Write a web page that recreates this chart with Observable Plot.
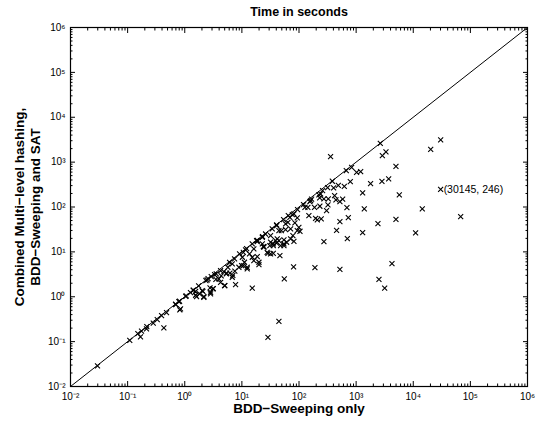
<!DOCTYPE html>
<html><head><meta charset="utf-8">
<script src="https://cdn.jsdelivr.net/npm/d3@7"></script>
<script src="https://cdn.jsdelivr.net/npm/@observablehq/plot@0.6"></script>
<style>body{margin:0;background:#fff}</style>
</head><body><div id="chart"></div>
<script>
// BDD-Sweeping only (x) vs Combined (y), seconds
const bddSweeping = [357,2650,30200,20200,2880,3330,4980,673,834,1020,1200,383,488,404,621,791,1790,2830,3710,30145,
1300,5700,14400,67600,1390,690,730,520,4980,2410,11000,1300,455,702,273,4240,80.4,190,520,55.3,
2510,3160,15.2,44.5,28.6,239,273,326,420,443,520,581,321,304,232,187,143,127,155,166,
230,149,195,209,245,81.5,69.3,64,84.7,93.3,99.5,93.3,104,71.3,58.2,49,40.6,78.2,71.3,81.5,
54.5,44.5,40.6,47.6,31.8,35.5,54.5,60.7,24.3,18.6,22.8,26,34,58.2,0.69,0.789,0.843,1.06,1.26,1.41,
1.55,1.82,2.16,2.02,1.61,2.83,3.11,2.47,2.91,3.56,3.95,4.24,5.04,7.76,4.84,5.69,6.79,5.40,6.18,6.79,
7.53,8.87,9.89,11.1,12.4,10.2,10.6,11.6,13.6,15.2,18.6,19.9,16.2,22.8,24.3,18.6,15.2,27.7,31.8,30.9,
35.5,38.9,31.8,41.6,44.5,0.0297,0.109,0.168,0.151,0.175,0.217,0.214,0.281,0.330,0.393,0.480,0.431,0.698,0.811,0.820,
1.04,1.41,1.55,2.16,2.08,2.83,3.16,2.77,2.35,2.56,4.98,3.51,5.34,6.95,4.35,65,76.4,160,223,259,
317,120,94.4,53.7,40.6,23,18.1,12.1,9.12,7.45,6.1,4.24,3.33,1.75,23.7,28.6,35.5,46.3,19.9,16.2,
12.4,10.6,54.5];
const combined = [1320,2620,3120,1930,1400,1690,805,647,766,593,614,375,304,266,289,368,332,373,423,246,
206,187,90.8,61.1,90.8,97,58,47.3,53.2,42.7,26.5,26.9,30.3,19.8,16.9,5.48,4.63,4.47,4.09,2.51,
2.45,1.55,1.55,0.284,0.125,195,151,151,179,144,132,149,111,83.2,104,98.4,98.4,98.4,132,149,
159,64.3,56.0,51.5,54.2,70,59,45.6,44.1,57,35.3,29.8,28.8,32.5,31.4,29.8,38.5,23.1,19.5,17.2,
18.5,17.9,15.6,13.8,16.4,13.8,13.8,16.4,13.1,18,21.1,25,32.5,42.1,0.68,0.78,0.537,1.05,1.24,1.40,
1.31,1.16,1.01,1.37,1.01,1.26,1.50,2.38,2.82,3.24,2.51,2.10,1.77,1.87,3.64,4.54,5.40,3.35,3.35,2.72,
3.71,4.54,4.95,5.87,4.54,7.59,9.79,11.1,9.02,7.59,7.85,5.87,11.7,15.1,12.7,16.9,15.0,9.79,9.02,13.8,
15.1,17.9,23.1,19.5,29.8,0.0289,0.107,0.128,0.150,0.171,0.215,0.193,0.257,0.310,0.381,0.445,0.203,0.670,0.794,0.511,
1.02,1.38,1.08,0.975,1.32,1.16,1.52,1.58,2.30,2.54,1.77,2.45,3.24,3.01,2.92,64,67.8,139,186,232,
270,113,87.5,52.4,40,21.9,17.9,11.8,9.0,7.0,5.8,3.8,3.1,1.74,13.1,9.3,9.3,8.28,5.2,6.4,
4.2,4.95,15.1];
const diagonal = [0.01, 1e6];
const decades = [1e-2,1e-1,1e0,1e1,1e2,1e3,1e4,1e5,1e6];
const minorMultipliers = [2,3,4,5,6,7,8,9];
const annotation = [{x: 30145, y: 246, label: "(30145, 246)"}];
const title = "Time in seconds";
const xLabel = "BDD\u2212Sweeping only";
const yLabel1 = "Combined Multi\u2212level hashing,";
const yLabel2 = "BDD\u2212Sweeping and SAT";

const points = bddSweeping.map((x, i) => ({x, y: combined[i]}));
const minorTicks = decades.slice(0, -1).flatMap(d => minorMultipliers.map(m => d * m));
const sup = {"-":"\u207B","0":"\u2070","1":"\u00B9","2":"\u00B2","3":"\u00B3","4":"\u2074","5":"\u2075","6":"\u2076","7":"\u2077","8":"\u2078","9":"\u2079"};
const fmt = d => "10" + String(Math.round(Math.log10(d))).split("").map(c => sup[c]).join("");
const font = "Liberation Sans, Arial, Helvetica, sans-serif";

const chart = Plot.plot({
  width: 540, height: 425,
  marginLeft: 70, marginRight: 13, marginTop: 27, marginBottom: 39,
  style: {fontFamily: font, fontSize: "10px", background: "#fff", color: "#000"},
  x: {type: "log", domain: [1e-2, 1e6]},
  y: {type: "log", domain: [1e-2, 1e6]},
  marks: [
    Plot.axisX(decades, {anchor: "bottom", tickSize: -5, tickFormat: fmt, tickPadding: 11, label: null, fontSize: 10}),
    Plot.axisX(minorTicks, {anchor: "bottom", tickSize: -2.5, tickFormat: () => "", label: null}),
    Plot.axisX(decades, {anchor: "top", tickSize: -5, tickFormat: () => "", label: null}),
    Plot.axisX(minorTicks, {anchor: "top", tickSize: -2.5, tickFormat: () => "", label: null}),
    Plot.axisY(decades, {anchor: "left", tickSize: -5, tickFormat: fmt, tickPadding: 10, label: null, fontSize: 10}),
    Plot.axisY(minorTicks, {anchor: "left", tickSize: -2.5, tickFormat: () => "", label: null}),
    Plot.axisY(decades, {anchor: "right", tickSize: -5, tickFormat: () => "", label: null}),
    Plot.axisY(minorTicks, {anchor: "right", tickSize: -2.5, tickFormat: () => "", label: null}),
    Plot.line(diagonal, {x: d => d, y: d => d, stroke: "#000", strokeWidth: 1}),
    Plot.dot(points, {x: "x", y: "y", symbol: "times", r: 2.4, stroke: "#000", strokeWidth: 1.1}),
    Plot.text(annotation, {x: "x", y: "y", text: "label", textAnchor: "start", dx: 3, fontSize: 10.5}),
    Plot.frame({stroke: "#000", strokeWidth: 1.2}),
    Plot.text([title], {frameAnchor: "top", dy: -16, lineAnchor: "middle", textAnchor: "middle", text: d => d, fontWeight: "bold", fontSize: 12.5}),
    Plot.text([xLabel], {frameAnchor: "bottom", dy: 22, lineAnchor: "middle", textAnchor: "middle", text: d => d, fontWeight: "bold", fontSize: 13.5}),
    Plot.text([yLabel1], {frameAnchor: "left", dx: -51, rotate: -90, textAnchor: "middle", lineAnchor: "middle", text: d => d, fontWeight: "bold", fontSize: 13.5}),
    Plot.text([yLabel2], {frameAnchor: "left", dx: -35, rotate: -90, textAnchor: "middle", lineAnchor: "middle", text: d => d, fontWeight: "bold", fontSize: 13.5})
  ]
});
document.getElementById("chart").appendChild(chart);
</script>
</body></html>
